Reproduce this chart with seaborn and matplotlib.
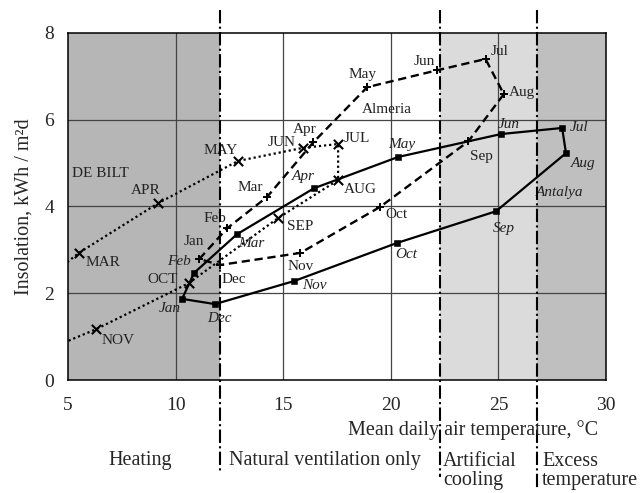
import matplotlib
matplotlib.use("Agg")
import matplotlib.pyplot as plt
import seaborn as sns

# data: (mean daily air temperature, insolation) per month
debilt_month = ["FEB", "MAR", "APR", "MAY", "JUN", "JUL", "AUG", "SEP", "OCT", "NOV", "DEC"]
debilt_temp = [3.3, 5.5, 9.2, 12.9, 15.9, 17.55, 17.55, 14.75, 10.6, 6.3, 3.3]
debilt_insol = [2.05, 2.93, 4.08, 5.05, 5.35, 5.44, 4.61, 3.73, 2.23, 1.17, 0.55]

alm_month = ["Jan", "Feb", "Mar", "Apr", "May", "Jun", "Jul", "Aug", "Sep", "Oct", "Nov", "Dec"]
alm_temp = [11.1, 12.4, 14.25, 16.4, 18.9, 22.15, 24.4, 25.25, 23.6, 19.5, 15.8, 12.05]
alm_insol = [2.79, 3.5, 4.22, 5.48, 6.75, 7.14, 7.4, 6.59, 5.5, 3.99, 2.93, 2.65]

ant_month = ["Jan", "Feb", "Mar", "Apr", "May", "Jun", "Jul", "Aug", "Sep", "Oct", "Nov", "Dec"]
ant_temp = [10.3, 10.86, 12.85, 16.43, 20.33, 25.12, 27.96, 28.14, 24.89, 20.29, 15.5, 11.83]
ant_insol = [1.87, 2.47, 3.36, 4.42, 5.14, 5.67, 5.81, 5.23, 3.89, 3.16, 2.28, 1.75]

# comfort zone limits (temperature)
zone_edges = [12.05, 22.3, 26.8]
zone_names = ["Heating", "Natural ventilation only", "Artificial\ncooling", "Excess\ntemperature"]

# label offsets in pixels (dx, dy)
debilt_off = {"MAR": (24, -10), "APR": (-13, 13), "MAY": (-17, 10), "JUN": (-21, 5),
              "JUL": (19, 6), "AUG": (22, -9), "SEP": (22, -8), "OCT": (-26, 4), "NOV": (22, -11)}
alm_off = [(-5, 17), (-12, 10), (-17, 9), (-9, 13), (-5, 13), (-13, 9),
           (14, 8), (18, 2), (13, -15), (16, -8), (0, -14), (14, -14)]
ant_off = [(-12, -10), (-15, 11), (14, -9), (-11, 12), (4, 13), (8, 10),
           (17, 0), (17, -10), (8, -17), (9, -12), (20, -4), (4, -14)]

sns.set_style("white")
plt.rcParams["font.family"] = ["Liberation Serif", "DejaVu Serif"]

fig = plt.figure(figsize=(6.43, 4.93), dpi=100)
ax = fig.add_axes([0.1058, 0.2292, 0.8367, 0.7039])

# background zones
ax.axvspan(5, zone_edges[0], color="#b6b6b6", zorder=0.2, lw=0)
ax.axvspan(zone_edges[1], zone_edges[2], color="#dbdbdb", zorder=0.2, lw=0)
ax.axvspan(zone_edges[2], 30, color="#bfbfbf", zorder=0.2, lw=0)

for gx in [10, 15, 20, 25]:
    ax.axvline(gx, color="#444444", lw=0.9, zorder=0.5)
for gy in [2, 4, 6]:
    ax.axhline(gy, color="#444444", lw=0.9, zorder=0.5)

# De Bilt - dotted, x markers
sns.lineplot(x=debilt_temp, y=debilt_insol, sort=False, estimator=None, ax=ax,
             color="black", linestyle=(0, (1, 1.3)), lw=1.6, zorder=3)
vis = [i for i, t in enumerate(debilt_temp) if t >= 5]
sns.scatterplot(x=[debilt_temp[i] for i in vis], y=[debilt_insol[i] for i in vis], ax=ax,
                marker="x", s=45, color="black", linewidth=1.5, zorder=4)
for i in vis:
    m = debilt_month[i]
    ax.annotate(m, (debilt_temp[i], debilt_insol[i]), xytext=debilt_off[m],
                textcoords="offset pixels", ha="center", va="center", fontsize=11, color="#222222")

# Almeria - dashed, + markers
sns.lineplot(x=alm_temp + alm_temp[:1], y=alm_insol + alm_insol[:1], sort=False, estimator=None,
             ax=ax, color="black", linestyle=(0, (3.5, 2)), lw=1.7, zorder=3)
sns.scatterplot(x=alm_temp, y=alm_insol, ax=ax, marker="+", s=40, color="black",
                linewidth=1.4, zorder=4)
for i, m in enumerate(alm_month):
    ax.annotate(m, (alm_temp[i], alm_insol[i]), xytext=alm_off[i],
                textcoords="offset pixels", ha="center", va="center", fontsize=11, color="#222222")

# Antalya - solid, square markers
sns.lineplot(x=ant_temp + ant_temp[:1], y=ant_insol + ant_insol[:1], sort=False, estimator=None,
             ax=ax, color="black", lw=1.6, zorder=3)
sns.scatterplot(x=ant_temp, y=ant_insol, ax=ax, marker="s", s=25, color="black",
                edgecolor="black", zorder=4)
for i, m in enumerate(ant_month):
    ax.annotate(m, (ant_temp[i], ant_insol[i]), xytext=ant_off[i], style="italic",
                textcoords="offset pixels", ha="center", va="center", fontsize=11, color="#222222")

ax.text(6.49, 4.77, "DE BILT", ha="center", va="center", fontsize=11, color="#222222")
ax.text(19.82, 6.24, "Almeria", ha="center", va="center", fontsize=11, color="#222222")
ax.text(27.86, 4.33, "Antalya", ha="center", va="center", fontsize=11, style="italic", color="#222222")

# zone boundaries, reaching outside the axes
for edge, bottom in zip(zone_edges, [-2.12, -2.23, -2.53]):
    ax.plot([edge, edge], [8.53, bottom], color="black", lw=1.5, linestyle="-.",
            clip_on=False, zorder=5)

ax.set_xlim(5, 30)
ax.set_ylim(0, 8)
ax.set_xticks([5, 10, 15, 20, 25, 30])
ax.set_yticks([0, 2, 4, 6, 8])
ax.tick_params(axis="both", length=0, labelsize=14)
ax.tick_params(axis="x", pad=12)
ax.tick_params(axis="y", pad=10)
for s in ax.spines.values():
    s.set_color("black")
    s.set_linewidth(1.1)
ax.set_ylabel("Insolation, kWh / m²d", fontsize=14.5, labelpad=8)

W, H = 643, 493
fig.text(473 / W, 1 - 430 / H, "Mean daily air temperature, °C", ha="center", va="center", fontsize=14.5)
fig.text(140 / W, 1 - 460 / H, zone_names[0], ha="center", va="center", fontsize=14.5)
fig.text(229 / W, 1 - 460 / H, zone_names[1], ha="left", va="center", fontsize=14.5)
for name, x0 in zip(zone_names[2:], [443, 542]):
    first, second = name.split("\n")
    fig.text(x0 / W, 1 - 461 / H, first, ha="left", va="center", fontsize=14.5)
    fig.text(x0 / W, 1 - 481 / H, second, ha="left", va="center", fontsize=14.5)

fig.savefig("out.png", dpi=100)
